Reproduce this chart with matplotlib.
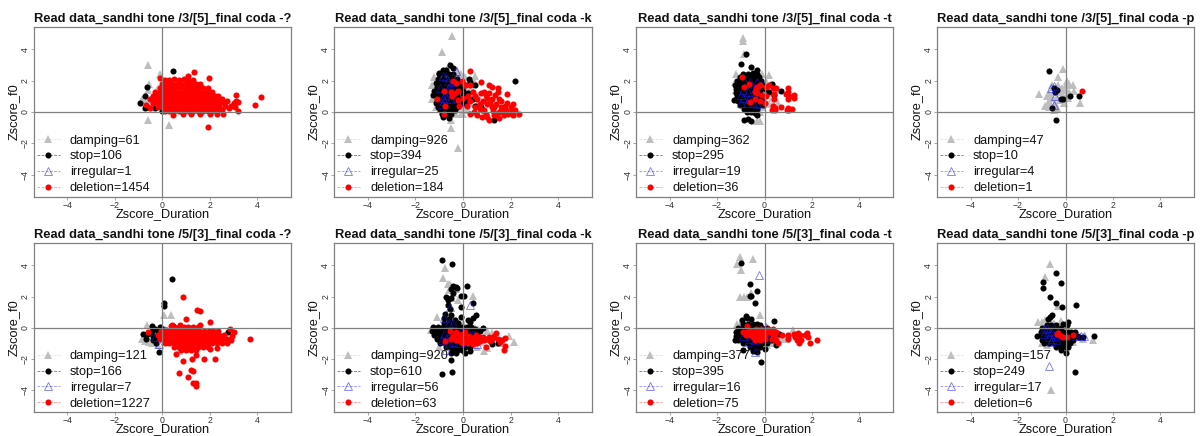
import matplotlib
matplotlib.use("Agg")
import matplotlib.pyplot as plt
from matplotlib.lines import Line2D

plt.rcParams['font.family'] = ['Liberation Sans', 'DejaVu Sans']

titles = ["Read data_sandhi tone /3/[5]_final coda -?", "Read data_sandhi tone /3/[5]_final coda -k",
          "Read data_sandhi tone /3/[5]_final coda -t", "Read data_sandhi tone /3/[5]_final coda -p",
          "Read data_sandhi tone /5/[3]_final coda -?", "Read data_sandhi tone /5/[3]_final coda -k",
          "Read data_sandhi tone /5/[3]_final coda -t", "Read data_sandhi tone /5/[3]_final coda -p"]
series_names = ["damping", "stop", "irregular", "deletion"]
counts = [[61, 106, 1, 1454], [926, 394, 25, 184], [362, 295, 19, 36], [47, 10, 4, 1],
          [121, 166, 7, 1227], [920, 610, 56, 63], [377, 395, 16, 75], [157, 249, 17, 6]]
ticks = [-4, -2, 0, 2, 4]

# ---- panel 1 ----
p1_damping = [(-.6,3.0),(-.1,2.4),(-.55,1.8),(-.6,1.4),(-.85,.85),(-.65,.75),(-.45,.85),(-.6,.5),(-.6,-.5),(.3,-.8),(-.2,1.5),(-.7,.3),(-.3,1.1),(-.4,.6),(-.75,.6)]
p1_stop = [(.45,2.6),(-.65,1.6),(-.72,1.05),(-.95,.55),(-.75,.25),(-.65,.3),(0,.05),(-.3,.25)]
p1_irregular = [(.5,1.0)]
p1_deletion = [
 (.1,2.05),(.3,2.05),(.5,2.1),(.7,2.05),(.9,2.1),(1.1,2.05),(1.3,2.05),
 (0,1.8),(.2,1.8),(.4,1.8),(.6,1.8),(.8,1.8),(1,1.8),(1.2,1.8),(1.4,1.8),(1.6,1.8),
 (-.1,1.55),(.1,1.55),(.3,1.55),(.5,1.55),(.7,1.55),(.9,1.55),(1.1,1.55),(1.3,1.55),(1.5,1.55),(1.7,1.55),(1.9,1.5),
 (-.3,1.3),(-.1,1.3),(.1,1.3),(.3,1.3),(.5,1.3),(.7,1.3),(.9,1.3),(1.1,1.3),(1.3,1.3),(1.5,1.3),(1.7,1.3),(1.9,1.3),(2.1,1.25),
 (-.4,1.05),(-.2,1.05),(0,1.05),(.2,1.05),(.4,1.05),(.6,1.05),(.8,1.05),(1,1.05),(1.2,1.05),(1.4,1.05),(1.6,1.05),(1.8,1.05),(2,1.05),(2.2,1.05),(2.35,1.05),
 (-.5,.8),(-.3,.8),(-.1,.8),(.1,.8),(.3,.8),(.5,.8),(.7,.8),(.9,.8),(1.1,.8),(1.3,.8),(1.5,.8),(1.7,.8),(1.9,.8),(2.1,.8),(2.3,.8),(2.5,.8),
 (-.4,.55),(-.2,.55),(0,.55),(.2,.55),(.4,.55),(.6,.55),(.8,.55),(1,.55),(1.2,.55),(1.4,.55),(1.6,.55),(1.8,.55),(2,.55),(2.2,.55),(2.4,.55),(2.6,.55),
 (-.2,.3),(0,.3),(.2,.3),(.4,.3),(.6,.3),(.8,.3),(1,.3),(1.2,.3),(1.4,.3),(1.6,.3),(1.8,.3),(2,.3),(2.2,.3),(2.4,.3),
 (.1,.05),(.3,.05),(.5,.05),(.7,.05),(.9,.05),(1.1,.05),(1.3,.05),(1.5,.05),(1.7,.05),(1.9,.05),(2.1,.05),(2.3,.05),
 (.45,-.2),(.85,-.12),(1.2,-.12),(1.6,-.12),(2,-.12),
 (-.7,.45),(-.5,.25),(1.9,-.95),(2.3,-.15),(2.55,-.1),(2.8,.25),(3.2,.05),(3.2,.65),(3.05,.35),(3.1,.7),(3.1,1.1),(2.9,.4),(3.0,.6),(2.7,.7),(2.65,.4),(3.9,.45),(4.15,.95),(1.35,2.55),(1.95,2.15),(-.1,2.15),(2.5,.1),(1.1,2.3)]

# ---- panel 2 ----
p2_damping = [(-.45,4.85),(-.9,3.85),(-.25,2.7),(.5,2.3),(.3,2.0),(-1.2,2.2),(-1.3,1.75),(-1.3,.8),(-1.15,.3),(-.5,-.5),(-.5,-1.05),(-.2,-2.3),(-.6,3.0),(-.1,-.1),(0,-.15),(-.3,-.1),(.05,2),(.2,1.5),(.4,1),(.3,.6),(.1,.3),(.6,.5),(.65,1.1),(.2,.1),(2.2,-.1),(2.1,.05),(-.1,2.4),(.1,2.2),(0,1.6),(.1,1.1),(0,.5),(.35,1.6),(-.05,.2),(-.2,2.5),(.45,1.95),(.2,.85)]
p2_stop = [(-.55,3.0),(-.85,2.7),(-1.0,2.5),(-.7,2.7),(-.4,2.8),
 (-1.0,2.4),(-.8,2.4),(-.6,2.4),(-.4,2.4),
 (-1.05,2.1),(-.85,2.1),(-.65,2.1),(-.45,2.1),(-.25,2.1),
 (-1.15,1.85),(-.95,1.85),(-.75,1.85),(-.55,1.85),(-.35,1.85),(-.15,1.85),
 (-1.1,1.6),(-.9,1.6),(-.7,1.6),(-.5,1.6),(-.3,1.6),(-.1,1.6),
 (-1.2,1.35),(-1,1.35),(-.8,1.35),(-.6,1.35),(-.4,1.35),(-.2,1.35),(0,1.35),
 (-1.25,1.1),(-1.05,1.1),(-.85,1.1),(-.65,1.1),(-.45,1.1),(-.25,1.1),(0,1.1),
 (-1.1,.85),(-.9,.85),(-.7,.85),(-.5,.85),(-.3,.85),(-.1,.85),(.1,.85),
 (-1.15,.6),(-.95,.6),(-.75,.6),(-.55,.6),(-.35,.6),(-.15,.6),(0,.6),
 (-1.05,.35),(-.85,.35),(-.65,.35),(-.45,.35),(-.25,.35),
 (-.95,.1),(-.75,.1),(-.55,.1),(-.35,.1),
 (-.9,-.15),(-.7,-.15),(-.5,-.15),(-.85,-.3),(-.6,-.4),
 (2.2,1.95),(.3,1.9),(.25,2.1),(.5,1.7),(.1,1.7),(.4,.8),(.75,.3),(.8,.1),(1.3,-.5),(.5,.4),(.1,.6),(.2,1.2)]
p2_irregular = [(-.3,2.6),(-.7,2.2),(-.85,2.3),(-.6,1.6),(-.55,1.7),(-.7,.8),(-.8,.7),(-.5,.8),(-.9,.5),(-.6,1.4),(-.3,.9),(.1,.65),(-.2,2.1),(-.65,2.0),(-.75,1.1),(-.45,1.2),(-.85,.9),(-.95,1.5),(-.4,1.9)]
p2_deletion = [(.3,2.6),(-.4,2.0),(-.3,1.85),(-.8,1.35),(-.5,1.3),(-.35,1.2),(-.45,1.0),(-.2,1.35),(-.05,1.95),(.1,1.75),(.75,1.9),(.3,1.75),(-1.1,.8),(-.75,.4),(-.8,-.1),(-.2,.75),(-.15,.4),(0,.9),(.2,1.0),(.4,1.3),(.5,1.0),(.6,.8),(.7,.5),(.5,.3),(.3,-.1),(.45,0),(.6,-.2),(.8,-.3),(.95,-.1),(1.1,-.5),(1.3,-.2),(1.5,-.4),(1.7,-.2),(1.9,-.1),(2.1,-.2),(2.35,-.1),(2.2,.1),(2.0,.35),(2.1,.5),(1.85,.6),(1.6,.7),(1.4,.5),(1.2,.3),(1,.5),(.85,.7),(1.0,.9),(1.2,.8),(1.35,1.1),(1.45,1.3),(1.2,1.6),(1.1,1.75),(1.45,1.5),(1.85,1.15),(.9,1.3),(.95,1.1),(.75,1.2),(1.1,1.2),(1.6,.3),(1.8,.1),(1.5,0),(1.25,.05),(.9,.1),(.7,.2),(1.7,-.05),(2.0,0),(1.0,-.3),(1.3,.3),(1.6,.05),(1.4,-.1),(.15,.4),(.3,.7),(1.5,.85),(1.75,.4),(1.15,.55)]

# ---- panel 3 ----
p3_damping = [(-.9,4.7),(-.9,4.5),(-.85,3.7),(-1.2,2.4),(.2,2.35),(-.1,2.4),(.4,1.7),(-1.2,1.4),(-.3,-.55),(-.15,2.2),(.55,.6),(.2,.5),(.05,1.7),(.1,1.2),(.3,.9),(-.2,-.6),(-.1,.3),(0,.6),(.05,2.0),(-.2,0),(-1.25,1.9),(.25,1.75),(.35,.55),(.5,1.4)]
p3_stop = [(-.8,3.7),(-1.0,3.05),(-.55,2.85),(-.3,2.65),(-.85,-.5),(-.7,-.45),(-.55,-.55),(-.3,-.2),(.3,1.8),(.2,1.3),(.7,1.35),(.4,1.1),(-1.3,.75),
 (-.9,2.45),(-.7,2.45),(-.5,2.5),(-.3,2.45),
 (-1.05,2.2),(-.85,2.2),(-.65,2.2),(-.45,2.2),(-.25,2.2),
 (-1.15,1.95),(-.95,1.95),(-.75,1.95),(-.55,1.95),(-.35,1.95),(-.15,1.95),
 (-1.25,1.7),(-1.05,1.7),(-.85,1.7),(-.65,1.7),(-.45,1.7),(-.25,1.7),(-.05,1.7),
 (-1.2,1.45),(-1,1.45),(-.8,1.45),(-.6,1.45),(-.4,1.45),(-.2,1.45),(0,1.45),
 (-1.2,1.2),(-1,1.2),(-.8,1.2),(-.6,1.2),(-.4,1.2),(-.2,1.2),
 (-1.15,.95),(-.95,.95),(-.75,.95),(-.55,.95),(-.35,.95),(-.15,.95),
 (-1.1,.7),(-.9,.7),(-.7,.7),(-.5,.7),(-.3,.7),(-.1,.7),
 (-1.05,.45),(-.85,.45),(-.65,.45),(-.45,.45),(-.25,.45),(-.05,.45),
 (-.85,.2),(-.65,.2),(-.45,.2),(-.3,.2),(-.75,0),(-.55,0),(-.4,-.05)]
p3_irregular = [(-.3,1.9),(-.1,.8),(-.8,1.8),(-.9,.9),(-.6,1.0),(-1,.6),(-.5,.6),(-.7,1.3),(-.4,1.5),(-.2,.6),(-.9,1.4),(-.6,1.9),(-.3,.5),(-.75,.55),(-.2,1.3),(-1.0,1.1),(-.45,1.05),(-.65,.8),(-.15,1.7)]
p3_deletion = [(-.95,2.25),(-.85,1.6),(-.65,1.8),(-.4,1.3),(-.3,1.6),(-.2,1.7),(-.35,1.45),(-.6,.65),(-.4,.8),(-.2,.7),(-.3,1.2),(0,.55),(-.1,1.1),(.05,1.05),(.05,1.6),(.2,1.7),(.35,1.5),(.5,1.55),(.4,1.15),(.4,.8),(.35,.4),(.45,.25),(.3,.1),(.45,.1),(.7,.35),(1,1.5),(1.0,1.3),(.9,1.15),(1.05,1.05),(1.0,.8),(1.25,1.1),(1.25,.9),(1.0,.25),(1.05,.1),(1.15,.2),(.95,.1)]

# ---- panel 4 ----
p4_damping = [(-.1,2.75),(-.3,2.25),(.05,1.95),(.15,1.8),(.3,1.7),(0,1.75),(-.3,1.7),(-.55,1.7),(-1.1,1.15),(-.7,1.2),(-.4,1.4),(-.2,1.3),(0,1.4),(.15,1.3),(.35,1.35),(-.55,1.0),(-.35,.95),(-.7,.7),(-.45,.6),(-.15,.85),(-.05,.55),(-.85,.4),(-.7,.35),(-.6,.4),(-.4,.4),(-.35,.25),(.6,.55),(-.5,.15),(-.25,.75),(-.1,1.0),(.1,.9),(-.6,.9),(-.15,1.55),(-.5,1.25),(-.8,1.05),(.05,1.1),(-.65,.55)]
p4_stop = [(-.7,2.6),(-.5,1.55),(-.45,1.3),(-.35,1.4),(-.2,.8),(-.1,.85),(.2,1.0),(.55,1.05),(-.55,.25),(-.4,-.5)]
p4_irregular = [(-.6,1.5),(-.5,1.65),(-.45,1.05),(-.5,.45)]
p4_deletion = [(.7,1.35)]

# ---- panel 5 ----
p5_damping = [(.05,.8),(.35,.8),(-.65,.15),(-.85,-.7),(-.7,-.6),(-.5,-.6),(-.75,-.85),(-.55,-.9),(-.3,-.5),(.1,-.1),(.7,-1.5),(-.45,-1.0),(-.2,-1.1)]
p5_stop = [(.4,3.1),(.05,1.6),(.05,1.4),(-.45,.1),(-.1,.05),(0,-.05),(.45,.1),(-.65,-.4),(-.8,-.4),(-.7,-.7),(-.45,-.2),(-.4,-.5),(-.3,-.1),(-.4,-.8),(-.55,-.35),(-.2,-.3),(-.15,-1.55),(0,-.2),(.1,-.8),(-.1,-.6),(.15,-.15),(2.75,-.25),(-.3,-.7),(.2,-.9),(-.25,-.95)]
p5_irregular = [(-.15,-1.05),(-.1,-.5),(-.3,-.6)]
p5_deletion = [
 (.5,.05),(.7,.05),(.9,.05),(1.1,.05),(1.3,.05),(1.5,.05),(1.6,.2),
 (-.05,-.2),(.15,-.2),(.35,-.2),(.55,-.2),(.75,-.2),(.95,-.2),(1.15,-.2),(1.35,-.2),(1.55,-.2),(1.75,-.2),(1.95,-.2),(2.15,-.2),(2.35,-.2),
 (-.2,-.45),(0,-.45),(.2,-.45),(.4,-.45),(.6,-.45),(.8,-.45),(1,-.45),(1.2,-.45),(1.4,-.45),(1.6,-.45),(1.8,-.45),(2,-.45),(2.2,-.45),(2.4,-.45),(2.6,-.45),
 (-.1,-.7),(.1,-.7),(.3,-.7),(.5,-.7),(.7,-.7),(.9,-.7),(1.1,-.7),(1.3,-.7),(1.5,-.7),(1.7,-.7),(1.9,-.7),(2.1,-.7),(2.3,-.7),(2.5,-.7),(2.7,-.7),
 (.1,-.95),(.3,-.95),(.5,-.95),(.7,-.95),(.9,-.95),(1.1,-.95),(1.3,-.95),(1.5,-.95),(1.7,-.95),(1.9,-.95),(2.1,-.95),(2.3,-.95),(2.5,-.95),
 (.5,-1.2),(.7,-1.2),(.9,-1.2),(1.1,-1.2),(1.3,-1.2),(1.5,-1.2),(1.7,-1.2),(1.9,-1.2),
 (.8,-1.4),(1.0,-1.4),(1.2,-1.4),(1.4,-1.4),
 (.85,1.95),(1.45,1.15),(1.6,1.1),(1.0,.57),(2.0,.38),(.4,.2),(.35,.1),(.75,.2),(-.6,-.3),
 (2.85,-.1),(3.0,-.3),(2.95,-.55),(2.9,-.8),(2.7,-.95),(3.7,-.7),
 (.57,-1.65),(.85,-2.15),(1.25,-2.0),(1.4,-1.75),(1.75,-2.0),(2.2,-2.0),(.7,-2.9),(1.1,-3.15),(1.2,-2.7),(1.3,-2.75),(1.3,-3.5),(1.4,-3.5),(1.4,-3.75),(2,-1.35),(2.3,-1.3)]

# ---- panel 6 ----
p6_damping = [(-.75,3.85),(-.85,3.2),(-.65,2.8),(-.55,2.8),(-.6,2.4),(-.4,2.2),(.4,2.05),(-.45,1.9),(-.2,1.75),(-.6,1.5),(-1.1,.7),(-1.35,-.15),(.65,-.1),(1.0,-.2),(1.2,-.35),(1.95,-.5),(2.15,-.9),(.9,-1.5),(1.0,-1.3),(-1.0,-1.2),(1.3,-.6),(1.6,-.8),(.3,.2),(-.7,.3),(-.5,.8),(-.3,.5),(0,.3),(.2,-.1),(.5,0),(.8,-.9),(.6,-1.2),(1.5,-1.0),(-.3,2.5)]
p6_stop = [(-.9,4.35),(-.45,4.05),(-.4,2.65),(-.3,2.6),(-.25,2.55),(-.5,2.45),(.15,2.7),(-.7,2.0),(-.65,1.75),(-.5,1.9),(-.4,2.2),(-.1,2.05),(.05,2.05),(.4,1.6),(-.65,1.45),(-.55,1.2),(-.1,1.3),(.55,.8),(.4,.6),(.2,.5),(.3,.4),(-.75,.9),(-.5,.8),(-.8,.6),(-.6,.55),(-.35,.5),(-.1,.7),(-.5,.2),(.85,0),(.5,-.05),(1.2,-1.05),(1.45,-1.0),(.1,-1.6),(-.5,-2.05),(-.9,-2.95),(-.45,-2.85),(-.3,-1.6),(-.5,-1.6),(-.15,-1.35),(.3,-1.5),
 (-.8,.3),(-.6,.3),(-.4,.3),(-.2,.3),
 (-1.25,.05),(-1.05,.05),(-.85,.05),(-.65,.05),(-.45,.05),(-.25,.05),(-.05,.05),(.15,.05),(.35,.05),
 (-1.3,-.2),(-1.1,-.2),(-.9,-.2),(-.7,-.2),(-.5,-.2),(-.3,-.2),(-.1,-.2),(.1,-.2),(.3,-.2),(.5,-.2),(.7,-.2),
 (-1.2,-.45),(-1,-.45),(-.8,-.45),(-.6,-.45),(-.4,-.45),(-.2,-.45),(0,-.45),(.2,-.45),(.4,-.45),(.6,-.45),
 (-1.1,-.7),(-.9,-.7),(-.7,-.7),(-.5,-.7),(-.3,-.7),(-.1,-.7),(.1,-.7),(.3,-.7),(.5,-.7),
 (-.95,-.95),(-.75,-.95),(-.55,-.95),(-.35,-.95),(-.15,-.95),(.05,-.95),(.25,-.95),(.45,-.95),
 (-.7,-1.2),(-.5,-1.2),(-.3,-1.2),(-.1,-1.2),(.1,-1.2),(.3,-1.2),(-.45,-1.4),(-.25,-1.4),(-.05,-1.4)]
p6_irregular = [(-.55,1.35),(.3,1.45),(-.7,-1.45),(.6,-1.05),(.4,-.4),(-.8,-.4),(-.7,-.7),(-.5,-.2),(-.3,-.5),(-.1,-.3),(.2,-.3),(-.9,-.8),(-.6,-1.0),(-.4,-.9),(.1,-.9),(.3,-.8),(-.6,.3),(-.4,.3),(-.2,-.95),(-.8,.6),(-.5,-.6),(.5,-.5)]
p6_deletion = [(-.55,-.2),(-.3,-.3),(-.5,-.7),(-.75,-.85),(-.4,-.5),(-.2,-.4),(-.1,-.6),(0,-.4),(.1,-.3),(.2,-.5),(.3,-.6),(.1,-.8),(-.1,-.9),(-.2,-.75),(-.3,-.8),(0,-1.0),(.2,-1.0),(.3,-.9),(.4,-.8),(.5,-.6),(.6,-.75),(.7,-.85),(.85,-.6),(.9,-.8),(.55,-.45),(1.1,-.6),(1.15,-.85),(1.3,-.55),(1.4,-.35),(1.45,-.7),(1.55,-.9),(1.65,-.75),(1.75,-.65),(1.75,-1.15),(1.7,-1.4),(.95,-1.25),(1.0,-.7),(1.2,-.7),(.7,-.6),(.4,-1.05),(.6,-1.0)]

# ---- panel 7 ----
p7_damping = [(-1.05,4.55),(-.5,4.4),(-1.15,4.05),(-1.0,3.7),(-1.05,2.0),(-.85,1.95),(-.75,2.0),(-.55,2.2),(-.2,.8),(-1.15,.25),(-1.0,.4),(1.2,-.15),(.95,-.5),(.9,-.7),(.65,-.7),(.35,-1.0),(.1,-1.1),(-.3,-1.2),(-1.15,-.1),(.5,-.4),(.8,-.6),(1.1,-.4),(.3,-.8)]
p7_stop = [(-1,4.15),(-.6,2.8),(-.3,2.35),(-.55,2.05),(-.6,2.05),(-.4,1.6),(-.8,.75),(-.75,.6),(-.55,.55),(.4,.45),(-.2,.15),(-.95,.5),(-.5,.2),(.6,-.4),(-.9,-1.4),(-.3,-1.55),(-.15,-2.2),(-.5,-1.5),(0,-1.35),(.5,-1.1),(-1.25,-.75),
 (-.9,.25),(-.7,.25),(-.5,.25),(-.3,.25),
 (-1.1,0),(-.9,0),(-.7,0),(-.5,0),(-.3,0),(-.1,0),(.1,0),
 (-1.2,-.25),(-1,-.25),(-.8,-.25),(-.6,-.25),(-.4,-.25),(-.2,-.25),(0,-.25),(.2,-.25),
 (-1.2,-.5),(-1,-.5),(-.8,-.5),(-.6,-.5),(-.4,-.5),(-.2,-.5),(0,-.5),(.2,-.5),(.3,-.5),
 (-1.1,-.75),(-.9,-.75),(-.7,-.75),(-.5,-.75),(-.3,-.75),(-.1,-.75),(.1,-.75),(.3,-.75),
 (-.9,-1),(-.7,-1),(-.5,-1),(-.3,-1),(-.1,-1),(.1,-1),
 (-.6,-1.2),(-.4,-1.2),(-.2,-1.2)]
p7_irregular = [(-.25,3.35),(.05,.05),(-.4,-1.55),(-.8,-.3),(-.6,-.7),(-.3,-.4),(-.5,-.2),(-.1,-.6),(.2,-.3),(.1,-.7),(-.9,-.5),(-.7,-.9),(.3,-.5),(-.4,-.8)]
p7_deletion = [(-.75,.1),(-.9,-.3),(-.75,-.3),(-.6,-.45),(-.6,-.2),(-.5,-.6),(-.45,-.3),(-.4,-.75),(-.3,-.6),(-.35,-.1),(-.25,-.35),(-.1,-.25),(-.1,-.5),(-.2,-.75),(0,-.7),(0,-.45),(.05,-.2),(.15,-.05),(.2,-.3),(.35,-.05),(.35,-.45),(.3,-.7),(.4,-.35),(.45,-.6),(.5,-.8),(.55,-.95),(.75,-.45),(1.0,-.45),(1.0,-.7),(1.25,-.4),(1.3,-.6),(1.35,-.8),(1.45,-.95),(1.55,-.75),(1.5,-.45),(1.7,-.45),(1.8,-.35),(1.85,-.6),(1.9,-1.0),(2.2,-.75),(1.4,-.35),(-.8,-.45),(-.15,-.1),(.5,-.3)]

# ---- panel 8 ----
p8_damping = [(-.65,4.05),(-.85,3.25),(-.6,-4.0),(-1.15,.35),(-1.0,.35),(-.85,.5),(-.2,.45),(-.3,1.4),(-1.0,-1.0),(1.15,-.75),(.75,-.7),(.6,-.55),(-.5,.3),(0,-1.3),(-.8,-1.1),(.3,-.9),(-.6,.4)]
p8_stop = [(-.4,3.5),(-.95,2.95),(-.95,2.55),(-.2,2.85),(-.65,1.95),(-.4,1.6),(-.15,1.3),(.45,1.45),(-.55,.8),(-.65,.7),(-.75,.55),(.4,-2.8),(1.2,-.55),(0,-1.6),(-.2,-1.4),(.1,.4),(-.1,.25),(.05,.2),(.55,-.6),(.75,-.6),(.4,-.3),(.5,-.55),
 (-.8,.2),(-.6,.2),(-.4,.2),
 (-1,0),(-.8,0),(-.6,0),(-.4,0),(-.2,0),
 (-1.05,-.25),(-.85,-.25),(-.65,-.25),(-.45,-.25),(-.25,-.25),(-.05,-.25),(.1,-.25),(.25,-.25),
 (-1.2,-.5),(-1,-.5),(-.8,-.5),(-.6,-.5),(-.4,-.5),(-.2,-.5),(0,-.5),(.2,-.5),(.3,-.5),
 (-1,-.75),(-.8,-.75),(-.6,-.75),(-.4,-.75),(-.2,-.75),(0,-.75),(.2,-.75),(.3,-.75),
 (-.9,-1),(-.7,-1),(-.5,-1),(-.3,-1),(-.1,-1),(.1,-1),(.2,-1),
 (-.4,-1.2),(-.2,-1.2),(0,-1.2),(.1,-1.2)]
p8_irregular = [(-.35,-.5),(-.7,-2.45),(.8,-.5),(.65,-.55),(-.8,0),(-.6,-.2),(-.9,-.4),(-.7,-.6),(-.5,0),(-.4,-.8),(-.9,-.1),(-.6,-.9),(-.3,-.3),(-.75,-.3),(-.55,-.7),(.45,-.5),(-.45,-.4)]
p8_deletion = [(-.35,-.4),(-.3,-.35),(-.2,-.55),(-.1,-.6),(.05,-.6),(.3,-.45)]

panels = [
    (p1_damping, p1_stop, p1_irregular, p1_deletion),
    (p2_damping, p2_stop, p2_irregular, p2_deletion),
    (p3_damping, p3_stop, p3_irregular, p3_deletion),
    (p4_damping, p4_stop, p4_irregular, p4_deletion),
    (p5_damping, p5_stop, p5_irregular, p5_deletion),
    (p6_damping, p6_stop, p6_irregular, p6_deletion),
    (p7_damping, p7_stop, p7_irregular, p7_deletion),
    (p8_damping, p8_stop, p8_irregular, p8_deletion),
]

W, H = 1200, 436
fig = plt.figure(figsize=(W / 100, H / 100), dpi=100, facecolor='white')

lefts = [34, 334.3, 636.3, 937.3]
rights = [290.7, 591.7, 892.7, 1193.7]
tops = [27.3, 243.3]
bottoms = [196.7, 412.3]

BLUE = (0.1, 0.1, 0.95, 0.6)
styles = [
    dict(marker='^', mfc='#BEBEBE', mec='#BEBEBE', ms=5.8, mew=0),
    dict(marker='o', mfc='black', mec='black', ms=4.4, mew=0),
    dict(marker='^', mfc='none', mec=BLUE, ms=5.2, mew=0.6),
    dict(marker='o', mfc='red', mec='red', ms=4.4, mew=0),
]
line_colors = [(.75, .75, .75, .6), (0, 0, 0, .65), (0, 0, 1, .5), (1, 0, 0, .5)]
GRAY = '#808080'

for i, (title, cnt, data) in enumerate(zip(titles, counts, panels)):
    r, c = divmod(i, 4)
    ax = fig.add_axes([lefts[c] / W, 1 - bottoms[r] / H,
                       (rights[c] - lefts[c]) / W, (bottoms[r] - tops[r]) / H])
    ax.set_xlim(-5.4, 5.4)
    ax.set_ylim(-5.4, 5.4)
    for pts, st in zip(data, styles):
        xs = [p[0] for p in pts]
        ys = [p[1] for p in pts]
        ax.plot(xs, ys, linestyle='none', zorder=3, clip_on=True, **st)
    ax.axhline(0, color=GRAY, lw=0.9, zorder=4)
    ax.axvline(0, color=GRAY, lw=0.9, zorder=4)
    for s in ax.spines.values():
        s.set_color(GRAY)
        s.set_linewidth(0.9)
    ax.set_xticks(ticks)
    ax.set_yticks(ticks)
    ax.tick_params(axis='both', length=2, width=0.5, color=GRAY, labelsize=6.3,
                   labelcolor='#333333', pad=1.0)
    for lab in ax.get_yticklabels():
        lab.set_rotation(90)
        lab.set_va('center')
    ax.set_title(title, fontweight='bold', fontsize=9.3, pad=4.0, color='#111111')
    ax.set_xlabel("Zscore_Duration", fontsize=9.2, labelpad=-1.6, color='#111111')
    ax.set_ylabel("Zscore_f0", fontsize=9.2, labelpad=1.0, color='#111111')
    handles = []
    for st, lc, nm, n in zip(styles, line_colors, series_names, cnt):
        handles.append(Line2D([0], [0], linestyle=(0, (4, 2)), lw=0.5, color=lc, label=f"{nm}={n}", **st))
    leg = ax.legend(handles=handles, loc='lower left', bbox_to_anchor=(0.0, 0.0), frameon=False,
                    fontsize=9.2, labelspacing=0.3, handlelength=1.8, handletextpad=0.8,
                    borderpad=0.2, borderaxespad=0.0, labelcolor='#111111')
    leg.set_zorder(5)

fig.savefig("out.png", dpi=100, facecolor='white')
